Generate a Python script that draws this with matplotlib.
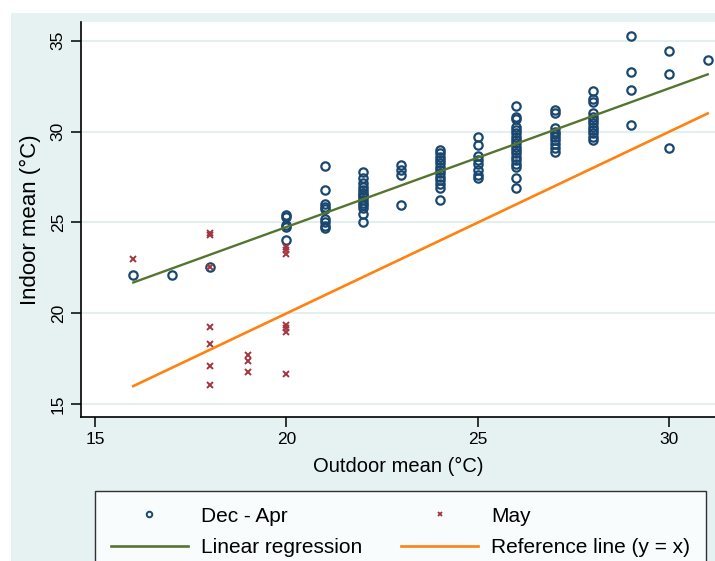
import numpy as np
import matplotlib.pyplot as plt
from matplotlib.patches import Rectangle
from matplotlib.lines import Line2D

plt.rcParams['font.family'] = ['Liberation Sans', 'DejaVu Sans']

# Dec - Apr observations (outdoor mean, indoor mean)
dec_apr_outdoor = ([16, 17, 18] + [20] * 5 + [21] * 9 + [22] * 14 + [23] * 4 + [24] * 13 + [25] * 8
                   + [26] * 18 + [27] * 10 + [28] * 12 + [29] * 4 + [30] * 3 + [31])
dec_apr_indoor = [22.1, 22.1, 22.55,
                  25.42, 25.3, 24.86, 24.76, 24.04,
                  28.12, 26.79, 26.02, 25.87, 25.74, 25.19, 25.04, 24.81, 24.70,
                  27.79, 27.43, 27.16, 26.97, 26.79, 26.64, 26.51, 26.39, 26.24, 26.09, 25.96, 25.78, 25.47, 25.04,
                  28.16, 27.89, 27.62, 25.97,
                  28.99, 28.81, 28.62, 28.44, 28.26, 28.07, 27.89, 27.71, 27.52, 27.34, 27.10, 26.88, 26.24,
                  29.72, 29.26, 28.66, 28.44, 28.22, 27.89, 27.62, 27.43,
                  31.41, 30.82, 30.68, 30.27, 30.09, 29.91, 29.72, 29.54, 29.36, 29.17, 28.99, 28.81, 28.62, 28.44,
                  28.22, 28.04, 27.43, 26.88,
                  31.19, 31.01, 30.18, 29.99, 29.87, 29.72, 29.54, 29.32, 29.08, 28.89,
                  32.25, 31.78, 31.65, 31.01, 30.82, 30.64, 30.46, 30.27, 30.09, 29.91, 29.72, 29.54,
                  35.28, 33.30, 32.29, 30.36,
                  34.45, 33.17, 29.12,
                  33.95]

# May observations
may_outdoor = [16] + [18] * 7 + [19] * 3 + [20] * 7
may_indoor = [23.0,
              24.44, 24.31, 22.57, 19.27, 18.30, 17.11, 16.06,
              17.71, 17.40, 16.78,
              23.67, 23.49, 23.28, 19.36, 19.18, 18.96, 16.67]

# fitted line endpoints and reference y = x
reg_x = [16, 31]
reg_y = [21.7, 33.15]
ref_x = [16, 31]
ref_y = [16, 31]

xticks = [15, 20, 25, 30]
yticks = [15, 20, 25, 30, 35]

bg = '#e6f1f1'
navy = '#1a476f'
maroon = '#a3353f'
green = '#55752f'
orange = '#ff8210'

W, H = 715, 561
fig = plt.figure(figsize=(W / 100, H / 100), dpi=100)
fig.patch.set_facecolor('white')
fig.patches.append(Rectangle((11 / W, 0), 1 - 11 / W, 1 - 13 / H, transform=fig.transFigure,
                             facecolor=bg, edgecolor='none', zorder=-10))

ax = fig.add_axes([81 / W, 1 - 417 / H, 1 - 81 / W, (417 - 22) / H])
ax.set_facecolor('white')

ax.plot(dec_apr_outdoor, dec_apr_indoor, linestyle='none', marker='o', markersize=6,
        mfc='none', mec=navy, mew=1.6, zorder=3)
ax.plot(may_outdoor, may_indoor, linestyle='none', marker='x', markersize=5,
        mec=maroon, mew=1.4, zorder=4)
ax.plot(reg_x, reg_y, color=green, lw=1.7, zorder=5)
ax.plot(ref_x, ref_y, color=orange, lw=1.9, zorder=5)

ax.set_xlim(14.634, 31.19)
ax.set_ylim(14.30, 36.03)
ax.set_xticks(xticks)
ax.set_yticks(yticks)
ax.yaxis.grid(True, color='#e3eeee', lw=1.5)
ax.set_axisbelow(True)
for s in ['top', 'right']:
    ax.spines[s].set_visible(False)
for s in ['left', 'bottom']:
    ax.spines[s].set_linewidth(1.2)
ax.tick_params(axis='both', length=7, width=1.1, labelsize=12.5, direction='out')
ax.tick_params(axis='x', pad=4)
ax.tick_params(axis='y', pad=4)
for lab in ax.get_yticklabels():
    lab.set_rotation(90)
    lab.set_va('center')

ax.set_xlabel('Outdoor mean (°C)', fontsize=14.5, labelpad=7)
ax.set_ylabel('Indoor mean (°C)', fontsize=16, labelpad=7)

handles = [
    Line2D([], [], linestyle='none', marker='o', markersize=4, mfc='none', mec=navy, mew=1.4),
    Line2D([], [], linestyle='none', marker='x', markersize=3.5, mec=maroon, mew=1.3),
    Line2D([], [], color=green, lw=1.9),
    Line2D([], [], color=orange, lw=1.9),
]
labels = ['Dec - Apr', 'May', 'Linear regression', 'Reference line (y = x)']
# reorder so that row 1 is the two scatters, row 2 the two lines
order = [0, 2, 1, 3]
leg = fig.legend([handles[i] for i in order], [labels[i] for i in order], ncol=2,
                 loc='upper left', bbox_to_anchor=(95 / W, 1 - 491 / H, (706 - 95) / W, 0.0),
                 mode='expand', fontsize=15, frameon=True, fancybox=False, borderaxespad=0,
                 handlelength=3.7, handleheight=0.7, handletextpad=0.62, labelspacing=0.6,
                 borderpad=0.75, columnspacing=2.0)
leg.get_frame().set_edgecolor('black')
leg.get_frame().set_linewidth(1.0)
leg.get_frame().set_facecolor('white')

fig.savefig('out.png', dpi=100)
